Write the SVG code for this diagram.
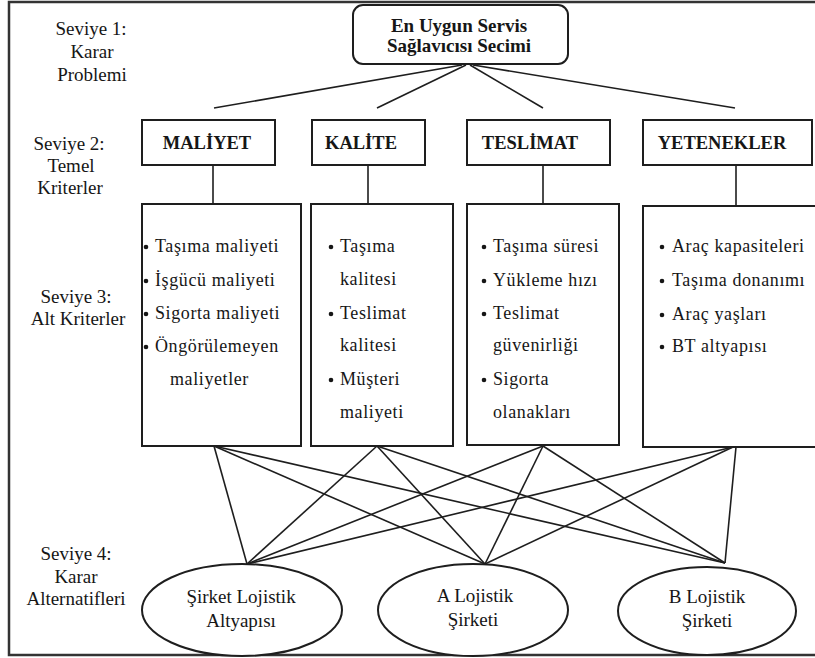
<svg xmlns="http://www.w3.org/2000/svg" width="815" height="658" viewBox="0 0 815 658">
<style>
.lbl{font-family:'Liberation Serif',serif;font-size:19px;fill:#161616;text-anchor:middle}
.hd{font-family:'Liberation Serif',serif;font-size:18.5px;font-weight:bold;fill:#161616;text-anchor:middle}
.top{font-family:'Liberation Serif',serif;font-size:19px;font-weight:bold;fill:#161616;text-anchor:middle}
.it{font-family:'Liberation Serif',serif;font-size:18px;letter-spacing:0.6px;fill:#161616}
.box{fill:#fff;stroke:#1e1e1e;stroke-width:2}
.ln{stroke:#1e1e1e;stroke-width:1.6;fill:none}
.bul{fill:#161616}
</style>
<rect x="0" y="0" width="815" height="658" fill="#fff"/>
<rect x="9" y="2" width="815" height="653" fill="none" stroke="#333" stroke-width="2.5"/>

<g id="labels">
<text class="lbl" x="91" y="35">Seviye 1:</text>
<text class="lbl" x="92" y="58">Karar</text>
<text class="lbl" x="92" y="81">Problemi</text>
<text class="lbl" x="69" y="150">Seviye 2:</text>
<text class="lbl" x="71" y="172">Temel</text>
<text class="lbl" x="70" y="194">Kriterler</text>
<text class="lbl" x="76" y="303">Seviye 3:</text>
<text class="lbl" x="78" y="325">Alt Kriterler</text>
<text class="lbl" x="76" y="560">Seviye 4:</text>
<text class="lbl" x="76" y="583">Karar</text>
<text class="lbl" x="76" y="605">Alternatifleri</text>
</g>

<g id="connectors">
<line class="ln" x1="462" y1="65" x2="214" y2="108"/>
<line class="ln" x1="466" y1="65" x2="377" y2="108"/>
<line class="ln" x1="470" y1="65" x2="543" y2="108"/>
<line class="ln" x1="473" y1="65" x2="735" y2="108"/>
<line class="ln" x1="213" y1="165" x2="213" y2="204"/>
<line class="ln" x1="368" y1="165" x2="368" y2="204"/>
<line class="ln" x1="543" y1="165" x2="543" y2="204"/>
<line class="ln" x1="736" y1="165" x2="736" y2="206"/>
<line class="ln" x1="214" y1="446" x2="247" y2="564"/>
<line class="ln" x1="214" y1="446" x2="485" y2="564"/>
<line class="ln" x1="214" y1="446" x2="725" y2="563"/>
<line class="ln" x1="377" y1="446" x2="247" y2="564"/>
<line class="ln" x1="377" y1="446" x2="485" y2="564"/>
<line class="ln" x1="377" y1="446" x2="725" y2="563"/>
<line class="ln" x1="543" y1="446" x2="247" y2="564"/>
<line class="ln" x1="543" y1="446" x2="485" y2="564"/>
<line class="ln" x1="543" y1="446" x2="725" y2="563"/>
<line class="ln" x1="733" y1="447" x2="247" y2="564"/>
<line class="ln" x1="733" y1="447" x2="485" y2="564"/>
<line class="ln" x1="736" y1="447" x2="725" y2="563"/>
</g>

<g id="goal">
<rect class="box" x="353" y="5" width="215" height="59" rx="10"/>
<text class="top" x="459" y="32">En Uygun Servis</text>
<text class="top" x="459" y="52">Sağlavıcısı Secimi</text>
</g>

<g id="maliyet">
<rect class="box" x="142" y="120" width="133" height="45"/>
<text class="hd" x="207" y="149">MALİYET</text>
</g>
<g id="kalite">
<rect class="box" x="312" y="120" width="113" height="45"/>
<text class="hd" x="361" y="149">KALİTE</text>
</g>
<g id="teslimat">
<rect class="box" x="467" y="120" width="143" height="45"/>
<text class="hd" x="530" y="149">TESLİMAT</text>
</g>
<g id="yetenekler">
<rect class="box" x="643" y="120" width="169" height="45"/>
<text class="hd" x="722" y="149">YETENEKLER</text>
</g>

<g id="maliyet-alt">
<rect class="box" x="142" y="204" width="159" height="242"/>
<circle class="bul" cx="146" cy="247" r="2.3"/><text class="it" x="155" y="252">Taşıma maliyeti</text>
<circle class="bul" cx="146" cy="281" r="2.3"/><text class="it" x="155" y="286">İşgücü maliyeti</text>
<circle class="bul" cx="146" cy="314" r="2.3"/><text class="it" x="155" y="319">Sigorta maliyeti</text>
<circle class="bul" cx="146" cy="347" r="2.3"/><text class="it" x="155" y="352">Öngörülemeyen</text>
<text class="it" x="170" y="385">maliyetler</text>
</g>
<g id="kalite-alt">
<rect class="box" x="311" y="204" width="142" height="242"/>
<circle class="bul" cx="331" cy="247" r="2.3"/><text class="it" x="340" y="252">Taşıma</text>
<text class="it" x="340" y="285">kalitesi</text>
<circle class="bul" cx="331" cy="314" r="2.3"/><text class="it" x="340" y="319">Teslimat</text>
<text class="it" x="340" y="351">kalitesi</text>
<circle class="bul" cx="331" cy="380" r="2.3"/><text class="it" x="340" y="385">Müşteri</text>
<text class="it" x="340" y="418">maliyeti</text>
</g>
<g id="teslimat-alt">
<rect class="box" x="467" y="204" width="152" height="241"/>
<circle class="bul" cx="484" cy="247" r="2.3"/><text class="it" x="493" y="252">Taşıma süresi</text>
<circle class="bul" cx="484" cy="281" r="2.3"/><text class="it" x="493" y="286">Yükleme hızı</text>
<circle class="bul" cx="484" cy="314" r="2.3"/><text class="it" x="493" y="319">Teslimat</text>
<text class="it" x="493" y="351">güvenirliği</text>
<circle class="bul" cx="484" cy="380" r="2.3"/><text class="it" x="493" y="385">Sigorta</text>
<text class="it" x="493" y="418">olanakları</text>
</g>
<g id="yetenekler-alt">
<rect class="box" x="643" y="206" width="190" height="241"/>
<circle class="bul" cx="662" cy="247" r="2.3"/><text class="it" x="672" y="252">Araç kapasiteleri</text>
<circle class="bul" cx="662" cy="281" r="2.3"/><text class="it" x="672" y="286">Taşıma donanımı</text>
<circle class="bul" cx="662" cy="315" r="2.3"/><text class="it" x="672" y="320">Araç yaşları</text>
<circle class="bul" cx="662" cy="347" r="2.3"/><text class="it" x="672" y="352">BT altyapısı</text>
</g>

<g id="sirket">
<ellipse class="box" cx="242" cy="610" rx="100" ry="46"/>
<text class="lbl" x="241" y="603">Şirket Lojistik</text>
<text class="lbl" x="241" y="627">Altyapısı</text>
</g>
<g id="a-lojistik">
<ellipse class="box" cx="473" cy="610" rx="95" ry="46"/>
<text class="lbl" x="475" y="602">A Lojistik</text>
<text class="lbl" x="473" y="626">Şirketi</text>
</g>
<g id="b-lojistik">
<ellipse class="box" cx="707" cy="611" rx="89" ry="44"/>
<text class="lbl" x="707" y="603">B Lojistik</text>
<text class="lbl" x="707" y="627">Şirketi</text>
</g>
</svg>
